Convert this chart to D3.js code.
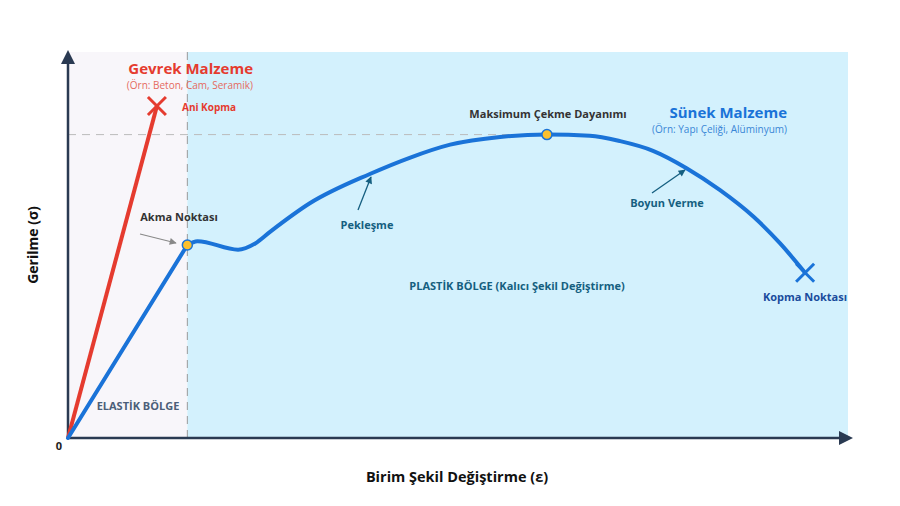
<!DOCTYPE html>
<html>
<head>
<meta charset="utf-8">
<script src="https://cdn.jsdelivr.net/npm/d3@7"></script>
<style>
body { margin: 0; background: #fff; }
text { font-family: "Open Sans", "Noto Sans", sans-serif; }
</style>
</head>
<body>
<script>
// strain (arbitrary units 0-100) / stress (0-100)
var elasticStrain = [0, 15.3];
var elasticStress = [0, 50.0];
var plasticStrain = [15.3, 16.6, 21.8, 24.0, 25.9, 31.0, 38.7, 43.8, 49.0, 55.4, 61.4, 66.9, 70.8, 75.0, 79.3, 83.6, 87.9, 91.3, 94.5];
var plasticStress = [50.0, 51.0, 48.8, 50.4, 53.4, 60.8, 68.4, 72.6, 76.0, 78.0, 78.6, 78.3, 76.9, 74.4, 69.9, 64.2, 57.3, 50.4, 42.8];
var brittleStrain = [0, 11.4];
var brittleStress = [0, 86.0];
var yieldPt = [15.3, 50.0];
var uts = [61.4, 78.6];
var fracture = [94.5, 42.8];
var elasticLimit = 15.3;
var xMaxRegion = 100;

var width = 900, height = 506;
var x0 = 68, x1 = 848, y0 = 438, y1 = 52;

var svg = d3.select('body').append('svg').attr('width', width).attr('height', height);

var x = d3.scaleLinear().domain([0, 100]).range([x0, x1]);
var y = d3.scaleLinear().domain([0, 100]).range([y0, y1]);

var blue = '#1a73d8', red = '#e53b2f', teal = '#155f80', navy = '#2a3a52';

var defs = svg.append('defs');
function marker(id, col, w, h) {
  defs.append('marker').attr('id', id)
    .attr('viewBox', '0 0 10 10').attr('refX', 9).attr('refY', 5)
    .attr('markerWidth', w).attr('markerHeight', h).attr('orient', 'auto')
    .attr('markerUnits', 'userSpaceOnUse')
    .append('path').attr('d', 'M0,0 L10,5 L0,10 z').attr('fill', col);
}
marker('arrTeal', teal, 8, 7);
marker('arrGray', '#888', 8, 7);

// regions
svg.append('rect').attr('x', x(0)).attr('y', y(100))
  .attr('width', x(elasticLimit) - x(0)).attr('height', y(0) - y(100))
  .attr('fill', '#f8f6fa');
svg.append('rect').attr('x', x(elasticLimit)).attr('y', y(100))
  .attr('width', x(xMaxRegion) - x(elasticLimit)).attr('height', y(0) - y(100))
  .attr('fill', '#d3f1fd');

// guides
svg.append('line').attr('x1', x(0)).attr('x2', x(uts[0])).attr('y1', y(uts[1])).attr('y2', y(uts[1]))
  .attr('stroke', '#bbb').attr('stroke-width', 1).attr('stroke-dasharray', '8,6');
svg.append('line').attr('x1', x(elasticLimit)).attr('x2', x(elasticLimit)).attr('y1', y(100)).attr('y2', y(0))
  .attr('stroke', '#999').attr('stroke-width', 1).attr('stroke-dasharray', '8,6');

// axes
svg.append('line').attr('x1', x0).attr('x2', x0).attr('y1', y0).attr('y2', 62)
  .attr('stroke', navy).attr('stroke-width', 2.5);
svg.append('path').attr('d', 'M' + x0 + ',50 L' + (x0 - 7) + ',64 L' + (x0 + 7) + ',64 z').attr('fill', navy);
svg.append('line').attr('x1', x0).attr('x2', 840).attr('y1', y0).attr('y2', y0)
  .attr('stroke', navy).attr('stroke-width', 2.5);
svg.append('path').attr('d', 'M853,' + y0 + ' L839,' + (y0 - 7) + ' L839,' + (y0 + 7) + ' z').attr('fill', navy);

// curves
var line = d3.line().x(function(d) { return x(d[0]); }).y(function(d) { return y(d[1]); });
var smooth = d3.line().x(function(d) { return x(d[0]); }).y(function(d) { return y(d[1]); })
  .curve(d3.curveMonotoneX);

svg.append('path').datum(d3.zip(brittleStrain, brittleStress)).attr('d', line)
  .attr('fill', 'none').attr('stroke', red).attr('stroke-width', 4);
svg.append('path').datum(d3.zip(elasticStrain, elasticStress)).attr('d', line)
  .attr('fill', 'none').attr('stroke', blue).attr('stroke-width', 4).attr('stroke-linecap', 'round');
svg.append('path').datum(d3.zip(plasticStrain, plasticStress)).attr('d', smooth)
  .attr('fill', 'none').attr('stroke', blue).attr('stroke-width', 4).attr('stroke-linecap', 'round');

function cross(pt, col, s) {
  var cx = x(pt[0]), cy = y(pt[1]);
  svg.append('path').attr('d', 'M' + (cx - s) + ',' + (cy - s) + 'L' + (cx + s) + ',' + (cy + s) +
    'M' + (cx + s) + ',' + (cy - s) + 'L' + (cx - s) + ',' + (cy + s))
    .attr('stroke', col).attr('stroke-width', 3).attr('fill', 'none');
}
cross([brittleStrain[1], brittleStress[1]], red, 9);
cross(fracture, blue, 9);

[yieldPt, uts].forEach(function(p) {
  svg.append('circle').attr('cx', x(p[0])).attr('cy', y(p[1])).attr('r', 5)
    .attr('fill', '#fbc02d').attr('stroke', blue).attr('stroke-width', 1.5);
});

// labels
function label(tx, ty, str, size, col, anchor, weight) {
  return svg.append('text').attr('x', tx).attr('y', ty).text(str)
    .attr('font-size', size).attr('fill', col).attr('text-anchor', anchor || 'middle')
    .attr('font-weight', weight || 700);
}
label(253, 74, 'Gevrek Malzeme', 15, red, 'end');
label(253, 89, '(Örn: Beton, Cam, Seramik)', 10, '#e56a60', 'end', 400);
label(182, 111, 'Ani Kopma', 10, red, 'start');

label(179, 221, 'Akma Noktası', 11, '#333');
svg.append('line').attr('x1', 140).attr('y1', 234).attr('x2', 176).attr('y2', 243)
  .attr('stroke', '#888').attr('stroke-width', 1.2).attr('marker-end', 'url(#arrGray)');

label(138, 410, 'ELASTİK BÖLGE', 11, '#4b5e78');
label(59, 450, '0', 11, '#222');
label(457, 482, 'Birim Şekil Değiştirme (ε)', 14.5, '#111');
label(0, 0, 'Gerilme (σ)', 14, '#111').attr('transform', 'translate(38,245) rotate(-90)');

label(548, 118, 'Maksimum Çekme Dayanımı', 11, '#333');
label(787, 118, 'Sünek Malzeme', 15, blue, 'end');
label(787, 133, '(Örn: Yapı Çeliği, Alüminyum)', 10, '#3a86d6', 'end', 400);

label(367, 229, 'Pekleşme', 11, teal);
svg.append('line').attr('x1', 358).attr('y1', 210).attr('x2', 371).attr('y2', 177)
  .attr('stroke', teal).attr('stroke-width', 1.3).attr('marker-end', 'url(#arrTeal)');

label(667, 207, 'Boyun Verme', 11, teal);
svg.append('line').attr('x1', 652).attr('y1', 193).attr('x2', 685).attr('y2', 170)
  .attr('stroke', teal).attr('stroke-width', 1.3).attr('marker-end', 'url(#arrTeal)');

label(517, 290, 'PLASTİK BÖLGE (Kalıcı Şekil Değiştirme)', 11, teal);
label(805, 301, 'Kopma Noktası', 11, '#1a4c9c');
</script>
</body>
</html>
